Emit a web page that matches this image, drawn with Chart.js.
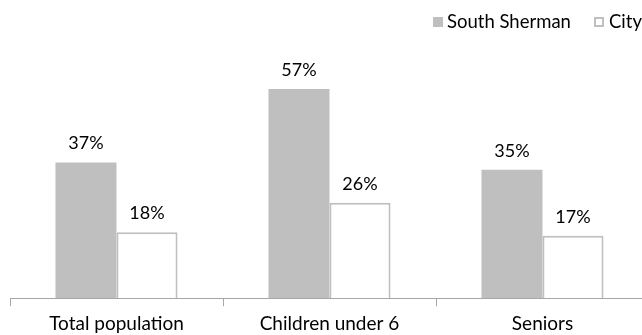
<!DOCTYPE html>
<html>
<head>
<meta charset="utf-8">
<script src="https://cdn.jsdelivr.net/npm/chart.js@4/dist/chart.umd.min.js"></script>
<style>
html,body{margin:0;padding:0;background:#fff;overflow:hidden;width:642px;height:335px;}
#wrap{position:relative;width:650px;height:335px;}
</style>
</head>
<body>
<div id="wrap"><canvas id="c"></canvas></div>
<script>
const categories = ["Total population", "Children under 6", "Seniors"];
const southSherman = [37, 57, 35];
const city = [18, 26, 17];
const seriesNames = ["South Sherman", "City"];

const FONT = "Lato, Calibri, 'Open Sans', sans-serif";
const GRAY = "#bfbfbf";

const labelPlugin = {
  id: "valueLabels",
  afterDatasetsDraw(chart) {
    const ctx = chart.ctx;
    ctx.save();
    ctx.font = "18px " + FONT;
    ctx.fillStyle = "#000";
    ctx.textAlign = "center";
    ctx.textBaseline = "middle";
    chart.data.datasets.forEach((ds, i) => {
      const meta = chart.getDatasetMeta(i);
      meta.data.forEach((bar, j) => {
        ctx.fillText(ds.data[j] + "%", bar.x, bar.y - 19);
      });
    });
    ctx.restore();
  }
};

const legendPlugin = {
  id: "customLegend",
  afterDraw(chart) {
    const ctx = chart.ctx;
    ctx.save();
    ctx.font = "18.5px " + FONT;
    ctx.textBaseline = "middle";
    ctx.textAlign = "left";
    ctx.fillStyle = GRAY;
    ctx.fillRect(433, 17, 10, 10);
    ctx.fillStyle = "#000";
    ctx.fillText(chart.data.datasets[0].label, 447, 22);
    ctx.fillStyle = "#fff";
    ctx.fillRect(594, 17, 10, 10);
    ctx.strokeStyle = GRAY;
    ctx.lineWidth = 2;
    ctx.strokeRect(595, 18, 8, 8);
    ctx.fillStyle = "#000";
    ctx.fillText(chart.data.datasets[1].label, 609, 22);
    ctx.restore();
  }
};

new Chart(document.getElementById("c"), {
  type: "bar",
  data: {
    labels: categories,
    datasets: [
      { label: seriesNames[0], data: southSherman, backgroundColor: GRAY, borderWidth: 0 },
      { label: seriesNames[1], data: city, backgroundColor: "#ffffff", borderColor: GRAY, borderWidth: 2, borderSkipped: "bottom" }
    ]
  },
  options: {
    responsive: true,
    maintainAspectRatio: false,
    animation: false,
    devicePixelRatio: 1,
    layout: { padding: { top: 78, left: 10, right: 1, bottom: -6 } },
    plugins: { legend: { display: false }, tooltip: { enabled: false } },
    datasets: { bar: { barPercentage: 1, categoryPercentage: 0.573 } },
    scales: {
      y: { display: false, min: 0, max: 60 },
      x: {
        offset: true,
        grid: { display: true, offset: true, drawOnChartArea: false, drawTicks: true, tickLength: 8, color: "#a6a6a6", lineWidth: 1 },
        border: { display: true, color: "#a6a6a6", width: 1 },
        ticks: { color: "#000", font: { family: FONT, size: 19 }, padding: 6, maxRotation: 0 }
      }
    }
  },
  plugins: [labelPlugin, legendPlugin]
});
</script>
</body>
</html>
